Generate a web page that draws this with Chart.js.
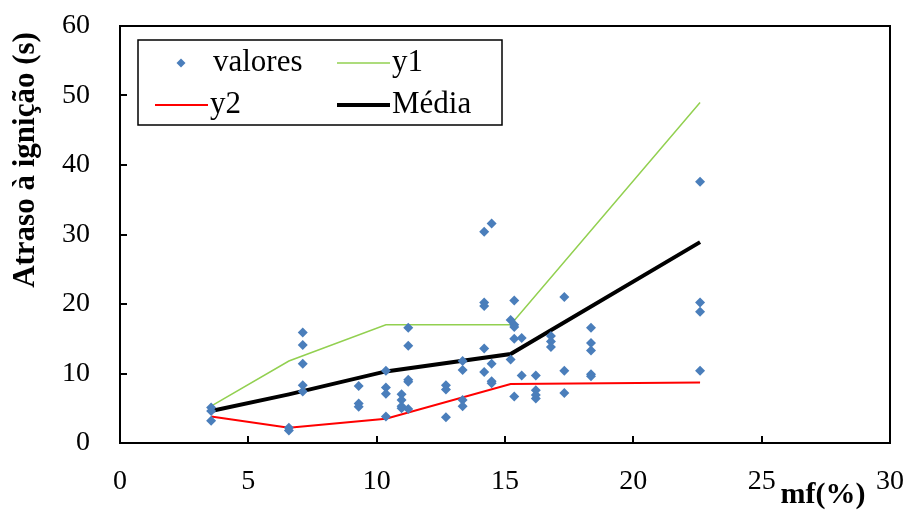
<!DOCTYPE html>
<html>
<head>
<meta charset="utf-8">
<title>Atraso à ignição</title>
<script src="https://cdn.jsdelivr.net/npm/chart.js@4.4.1/dist/chart.umd.min.js"></script>
<style>
  html, body { margin: 0; padding: 0; background: #ffffff; }
  canvas { display: block; }
</style>
</head>
<body>
<canvas id="chart" width="909" height="510"></canvas>
<script>
// Breakpoints of the envelope curves (mf %)
const curveX = [3.55, 6.58, 10.36, 15.22, 22.6];
const y1Values = [5.3, 11.8, 17.0, 17.0, 49.0];
const y2Values = [3.8, 2.2, 3.5, 8.5, 8.7];
const mediaValues = [4.6, 7.0, 10.3, 12.8, 28.9];

// Measured ignition delays (s) against mf (%)
const valoresX = [
  3.55, 3.55, 3.55,
  6.58, 6.58,
  7.12, 7.12, 7.12, 7.12, 7.12,
  9.3, 9.3, 9.3,
  10.36, 10.36, 10.36, 10.36,
  10.97, 10.97, 10.97, 10.97,
  11.23, 11.23, 11.23, 11.23, 11.23,
  12.7, 12.7, 12.7,
  13.35, 13.35, 13.35, 13.35,
  14.19, 14.19, 14.19, 14.19, 14.19,
  14.48, 14.48, 14.48, 14.48,
  15.22, 15.22,
  15.36, 15.36, 15.36, 15.36, 15.36,
  15.65, 15.65,
  16.2, 16.2, 16.2, 16.2,
  16.79, 16.79, 16.79,
  17.31, 17.31, 17.31,
  18.35, 18.35, 18.35, 18.35, 18.35,
  22.6, 22.6, 22.6, 22.6
];
const valoresY = [
  5.1, 4.6, 3.2,
  2.2, 1.8,
  15.9, 14.1, 11.4, 8.3, 7.4,
  8.2, 5.7, 5.2,
  10.4, 8.0, 7.1, 3.8,
  7.0, 6.2, 5.3, 5.0,
  16.6, 14.0, 9.1, 8.8, 4.9,
  8.3, 7.7, 3.7,
  11.8, 10.5, 6.2, 5.3,
  30.4, 20.2, 19.7, 13.6, 10.2,
  31.6, 11.4, 8.9, 8.6,
  17.7, 12.0,
  20.5, 17.0, 16.7, 15.0, 6.7,
  15.1, 9.7,
  9.7, 7.6, 6.9, 6.4,
  15.4, 14.6, 13.8,
  21.0, 10.4, 7.2,
  16.6, 14.4, 13.3, 9.9, 9.6,
  37.6, 20.2, 18.9, 10.4
];

// Axis ranges and tick steps
const xRange = [0, 30];
const xStep = 5;
const yRange = [0, 60];
const yStep = 10;

const xTitle = 'mf(%)';
const yTitle = 'Atraso à ignição (s)';
const seriesNames = ['valores', 'y1', 'y2', 'Média'];

const SERIF = '"Liberation Serif", "Times New Roman", serif';

const toPoints = (xs, ys) => xs.map((x, i) => ({ x: x, y: ys[i] }));

// Inward tick marks and the closed plot frame
const frameAndTicks = {
  id: 'frameAndTicks',
  afterDatasetsDraw(chart) {
    const { ctx, chartArea: a, scales } = chart;
    const len = 7;
    ctx.save();
    ctx.strokeStyle = '#000';
    ctx.lineWidth = 2;
    ctx.beginPath();
    scales.x.ticks.forEach(t => {
      const px = Math.round(scales.x.getPixelForValue(t.value));
      ctx.moveTo(px, a.bottom);
      ctx.lineTo(px, a.bottom - len);
    });
    scales.y.ticks.forEach(t => {
      const py = Math.round(scales.y.getPixelForValue(t.value));
      ctx.moveTo(a.left, py);
      ctx.lineTo(a.left + len, py);
    });
    ctx.stroke();
    ctx.strokeRect(a.left, a.top, a.right - a.left, a.bottom - a.top);
    ctx.restore();
  }
};

// Axis titles placed beside the axes
const axisTitles = {
  id: 'axisTitles',
  afterDraw(chart) {
    const { ctx, chartArea: a } = chart;
    ctx.save();
    ctx.fillStyle = '#000';
    ctx.font = 'bold 31px ' + SERIF;
    ctx.textAlign = 'center';
    ctx.textBaseline = 'middle';
    ctx.translate(26, a.top + 134);
    ctx.rotate(-Math.PI / 2);
    ctx.fillText(yTitle, 0, 0);
    ctx.restore();

    ctx.save();
    ctx.fillStyle = '#000';
    ctx.font = 'bold 30px ' + SERIF;
    ctx.textAlign = 'center';
    ctx.textBaseline = 'middle';
    ctx.fillText(xTitle, a.right - 67, a.bottom + 52);
    ctx.restore();
  }
};

// Two-column boxed legend inside the plot
const boxLegend = {
  id: 'boxLegend',
  afterDraw(chart) {
    const { ctx, chartArea: a } = chart;
    const ds = chart.data.datasets;
    const bx = a.left + 18, by = a.top + 14, bw = 364, bh = 85;
    ctx.save();
    ctx.fillStyle = '#fff';
    ctx.fillRect(bx, by, bw, bh);
    ctx.strokeStyle = '#000';
    ctx.lineWidth = 1.5;
    ctx.strokeRect(bx, by, bw, bh);

    ctx.font = '31px ' + SERIF;
    ctx.textBaseline = 'middle';
    ctx.textAlign = 'left';
    ctx.fillStyle = '#000';

    const row1 = by + 23, row2 = by + 65;
    // valores: marker
    ctx.fillStyle = ds[0].backgroundColor;
    const mx = bx + 43, r = 4.5;
    ctx.beginPath();
    ctx.moveTo(mx, row1 - r); ctx.lineTo(mx + r, row1);
    ctx.lineTo(mx, row1 + r); ctx.lineTo(mx - r, row1);
    ctx.closePath(); ctx.fill();
    ctx.fillStyle = '#000';
    ctx.fillText(ds[0].label, bx + 75, row1);

    const lineEntry = (d, x0, y) => {
      ctx.strokeStyle = d.borderColor;
      ctx.lineWidth = d.borderWidth;
      ctx.beginPath();
      ctx.moveTo(x0, y); ctx.lineTo(x0 + 53, y);
      ctx.stroke();
      ctx.fillStyle = '#000';
      ctx.fillText(d.label, x0 + 55, y);
    };
    lineEntry(ds[1], bx + 199, row1);
    lineEntry(ds[2], bx + 17, row2);
    lineEntry(ds[3], bx + 199, row2);
    ctx.restore();
  }
};

new Chart(document.getElementById('chart'), {
  type: 'scatter',
  data: {
    datasets: [
      {
        label: seriesNames[0],
        data: toPoints(valoresX, valoresY),
        showLine: false,
        pointStyle: 'rectRot',
        pointRadius: 5,
        backgroundColor: '#4A7EBB',
        borderColor: '#4A7EBB',
        borderWidth: 0
      },
      {
        label: seriesNames[1],
        data: toPoints(curveX, y1Values),
        showLine: true,
        borderColor: '#92D050',
        borderWidth: 1.5,
        pointRadius: 0,
        tension: 0
      },
      {
        label: seriesNames[2],
        data: toPoints(curveX, y2Values),
        showLine: true,
        borderColor: '#FF0000',
        borderWidth: 2,
        pointRadius: 0,
        tension: 0
      },
      {
        label: seriesNames[3],
        data: toPoints(curveX, mediaValues),
        showLine: true,
        borderColor: '#000000',
        borderWidth: 4,
        pointRadius: 0,
        tension: 0
      }
    ]
  },
  options: {
    responsive: false,
    animation: false,
    devicePixelRatio: 1,
    layout: { padding: { top: 26, right: 19, left: 0, bottom: 0 } },
    plugins: {
      legend: { display: false },
      tooltip: { enabled: false }
    },
    scales: {
      x: {
        type: 'linear',
        min: xRange[0],
        max: xRange[1],
        ticks: {
          stepSize: xStep,
          color: '#000',
          padding: 22,
          maxRotation: 0,
          font: { family: SERIF, size: 28 }
        },
        grid: { drawOnChartArea: false, drawTicks: false, color: 'rgba(0,0,0,0)' },
        border: { display: false },
        afterFit(scale) {
          scale.height = 67;
          scale.paddingLeft = 0;
          scale.paddingRight = 0;
        }
      },
      y: {
        type: 'linear',
        min: yRange[0],
        max: yRange[1],
        ticks: {
          stepSize: yStep,
          color: '#000',
          padding: 30,
          font: { family: SERIF, size: 28 }
        },
        grid: { drawOnChartArea: false, drawTicks: false, color: 'rgba(0,0,0,0)' },
        border: { display: false },
        afterFit(scale) {
          scale.width = 120;
          scale.paddingTop = 0;
          scale.paddingBottom = 0;
        }
      }
    }
  },
  plugins: [frameAndTicks, axisTitles, boxLegend]
});
</script>
</body>
</html>
